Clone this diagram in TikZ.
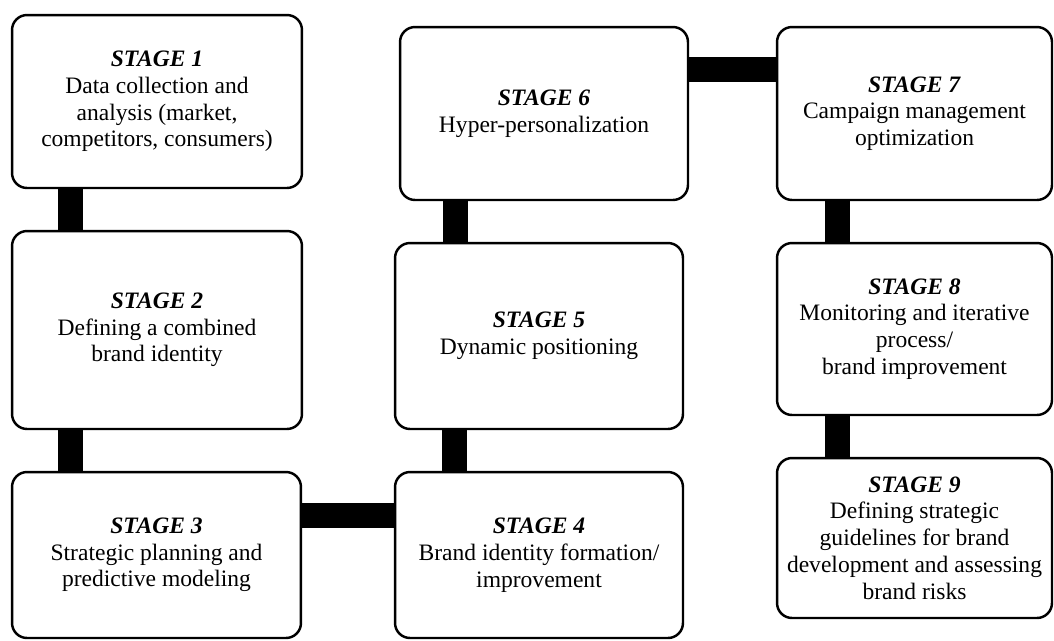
\documentclass[tikz,border=0pt]{standalone}
\usepackage{fontspec}
\setmainfont{Liberation Serif}

\begin{document}
\begin{tikzpicture}[x=0.02cm, y=-0.02cm,
  stagebox/.style={draw, line width=1.4pt, rounded corners=0.3cm, align=center, inner sep=2pt, font=\fontsize{13.4}{15.2}\selectfont},
  bar/.style={line width=0.5cm}]

\useasboundingbox (0,0) rectangle (1054,640);

% left column
\node[stagebox, minimum width=5.8cm, minimum height=3.46cm] (s1) at (157,101.5) {\textbf{\textit{STAGE 1}}\\Data collection and\\analysis (market,\\competitors, consumers)};
\node[stagebox, minimum width=5.8cm, minimum height=3.96cm] (s2) at (157,330) {\textbf{\textit{STAGE 2}}\\Defining a combined\\brand identity};
\node[stagebox, minimum width=5.78cm, minimum height=3.32cm] (s3) at (156.5,555) {\textbf{\textit{STAGE 3}}\\Strategic planning and\\predictive modeling};

% middle column
\node[stagebox, minimum width=5.76cm, minimum height=3.32cm] (s4) at (539,555) {\textbf{\textit{STAGE 4}}\\Brand identity formation/\\improvement};
\node[stagebox, minimum width=5.76cm, minimum height=3.72cm] (s5) at (539,336) {\textbf{\textit{STAGE 5}}\\Dynamic positioning};
\node[stagebox, minimum width=5.76cm, minimum height=3.46cm] (s6) at (544,113.5) {\textbf{\textit{STAGE 6}}\\Hyper-personalization};

% right column
\node[stagebox, minimum width=5.5cm, minimum height=3.46cm] (s7) at (914.5,113.5) {\textbf{\textit{STAGE 7}}\\Campaign management\\optimization};
\node[stagebox, minimum width=5.5cm, minimum height=3.44cm] (s8) at (914.5,329) {\textbf{\textit{STAGE 8}}\\Monitoring and iterative\\process/\\brand improvement};
\node[stagebox, minimum width=5.5cm, minimum height=3.2cm] (s9) at (914.5,538) {\textbf{\textit{STAGE 9}}\\Defining strategic\\guidelines for brand\\development and assessing\\brand risks};

% where the bars run
\coordinate (xleft) at (70.5,0);
\coordinate (xmidlow) at (454,0);
\coordinate (xmidup) at (455.5,0);
\coordinate (xright) at (837,0);
\coordinate (ylow) at (0,515);
\coordinate (ytop) at (0,69.5);

\draw[bar] (s1.south -| xleft) -- (s2.north -| xleft);
\draw[bar] (s2.south -| xleft) -- (s3.north -| xleft);
\draw[bar] (s3.east |- ylow) -- (s4.west |- ylow);
\draw[bar] (s4.north -| xmidlow) -- (s5.south -| xmidlow);
\draw[bar] (s5.north -| xmidup) -- (s6.south -| xmidup);
\draw[bar] (s6.east |- ytop) -- (s7.west |- ytop);
\draw[bar] (s7.south -| xright) -- (s8.north -| xright);
\draw[bar] (s8.south -| xright) -- (s9.north -| xright);

\end{tikzpicture}
\end{document}
